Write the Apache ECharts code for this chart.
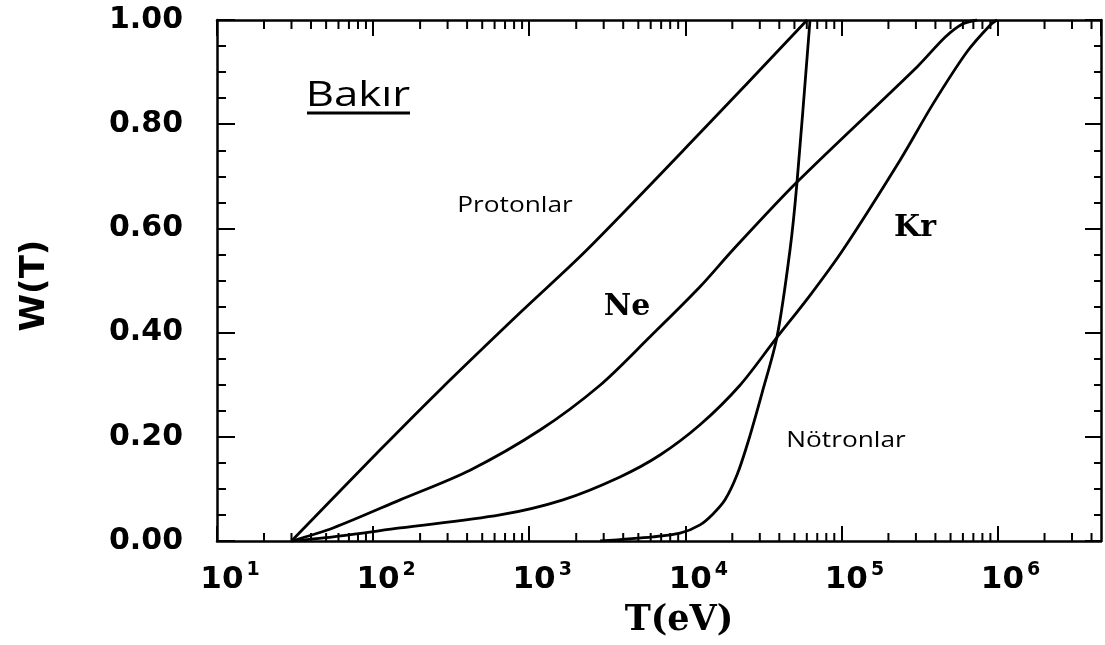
<!DOCTYPE html>
<html>
<head>
<meta charset="utf-8">
<script src="https://cdn.jsdelivr.net/npm/echarts@6/dist/echarts.min.js"></script>
<style>
  html, body { margin: 0; padding: 0; background: #ffffff; }
  #chart { width: 1105px; height: 645px; }
</style>
</head>
<body>
<div id="chart"></div>
<script>
// Energy T (eV) and fraction W(T) for each projectile in copper
const protonT = [30, 111, 268, 873, 2345, 12400, 60300];
const protonW = [0, 0.175, 0.29, 0.438, 0.559, 0.783, 1.0];

const neonT = [30, 55.4, 149, 418, 1173, 2842, 5940, 12420, 20210, 51940, 305000, 461000, 592500, 739000];
const neonW = [0, 0.025, 0.079, 0.136, 0.213, 0.299, 0.392, 0.488, 0.559, 0.689, 0.910, 0.967, 0.992, 1.0];

const kryptonT = [30, 55.4, 149, 650, 1646, 3816, 6887, 12420, 22400, 37550, 63100, 102400, 237400, 386200, 637600, 895400, 992700];
const kryptonW = [0, 0.008, 0.025, 0.050, 0.079, 0.123, 0.165, 0.223, 0.299, 0.386, 0.472, 0.559, 0.731, 0.839, 0.939, 0.990, 1.0];

const neutronT = [2842, 6212, 9250, 12420, 15050, 17960, 21450, 25220, 31000, 38680, 46850, 51940, 62920];
const neutronW = [0, 0.008, 0.015, 0.031, 0.052, 0.079, 0.127, 0.19, 0.284, 0.392, 0.559, 0.689, 1.0];

// Axis ticks
const decadeExponents = [1, 2, 3, 4, 5, 6];
const decadeValues = [10, 100, 1000, 10000, 100000, 1000000];
const minorMultipliers = [2, 3, 4, 5, 6, 7, 8, 9];
const yTickLabels = ['0.00', '0.20', '0.40', '0.60', '0.80', '1.00'];

const X_MIN = 10, X_MAX = 4.6e6;

// log-spaced minor tick positions inside the x range
const minorTickValues = [];
decadeValues.forEach(d => minorMultipliers.forEach(m => {
  const v = d * m;
  if (v > X_MIN && v < X_MAX) minorTickValues.push(v);
}));

const pairs = (xs, ys) => xs.map((x, i) => [x, ys[i]]);

const black = '#000000';
const axisLine = { show: true, onZero: false, lineStyle: { color: black, width: 2.5 } };

function decadeLabel(v) {
  const e = Math.round(Math.log10(v));
  if (Math.abs(Math.log10(v) - e) > 1e-6) return '';
  const i = decadeExponents.indexOf(e);
  return i < 0 ? '' : '{b|10}{s|' + decadeExponents[i] + '}';
}

function curve(name, data) {
  return {
    name: name,
    type: 'line',
    data: data,
    xAxisIndex: 0,
    yAxisIndex: 0,
    showSymbol: false,
    smooth: 0.3,
    lineStyle: { color: black, width: 2.8 },
    itemStyle: { color: black },
    z: 3
  };
}

const chart = echarts.init(document.getElementById('chart'), null, { renderer: 'canvas' });

chart.setOption({
  backgroundColor: '#ffffff',
  animation: false,
  grid: { left: 217, right: 4, top: 20, bottom: 104, containLabel: false },
  xAxis: [
    {
      type: 'log', logBase: 10, min: X_MIN, max: X_MAX, position: 'bottom',
      axisLine: axisLine,
      axisTick: { show: true, inside: true, length: 15, lineStyle: { color: black, width: 2 } },
      splitLine: { show: false },
      axisLabel: {
        show: true, margin: 20, showMaxLabel: false,
        padding: [0, 0, 0, 26],
        formatter: decadeLabel,
        rich: {
          b: { fontFamily: 'DejaVu Sans', fontWeight: 'bold', fontSize: 31, lineHeight: 34, color: black, verticalAlign: 'bottom' },
          s: { fontFamily: 'DejaVu Sans', fontWeight: 'bold', fontSize: 19, lineHeight: 14, color: black, verticalAlign: 'top', padding: [0, 0, 0, 3] }
        }
      },
      name: 'T(eV)', nameLocation: 'middle', nameGap: 62,
      nameTextStyle: { fontFamily: 'DejaVu Serif', fontWeight: 'bold', fontSize: 35, lineHeight: 36, color: black, padding: [0, 0, 0, 40] }
    },
    {
      type: 'log', logBase: 10, min: X_MIN, max: X_MAX, position: 'top',
      axisLine: axisLine,
      axisTick: { show: true, inside: true, length: 16, lineStyle: { color: black, width: 2 } },
      splitLine: { show: false },
      axisLabel: { show: false }
    }
  ],
  yAxis: [
    {
      type: 'value', min: 0, max: 1, interval: 0.2, position: 'left',
      axisLine: axisLine,
      axisTick: { show: true, inside: true, length: 18, lineStyle: { color: black, width: 2 } },
      minorTick: { show: true, splitNumber: 4, length: 9, lineStyle: { color: black, width: 2 } },
      splitLine: { show: false },
      axisLabel: {
        show: true, margin: 34,
        formatter: v => yTickLabels[Math.round(v / 0.2)],
        fontFamily: 'DejaVu Sans', fontWeight: 'bold', fontSize: 30, color: black
      },
      name: 'W(T)', nameLocation: 'middle', nameRotate: 90, nameGap: 165,
      nameTextStyle: { fontFamily: 'DejaVu Sans', fontWeight: 'bold', fontSize: 34, color: black, padding: [0, 10, 0, 0] }
    },
    {
      type: 'value', min: 0, max: 1, interval: 0.2, position: 'right',
      axisLine: axisLine,
      axisTick: { show: true, inside: true, length: 16, lineStyle: { color: black, width: 2 } },
      minorTick: { show: true, splitNumber: 4, length: 7, lineStyle: { color: black, width: 2 } },
      splitLine: { show: false },
      axisLabel: { show: false }
    }
  ],
  series: [
    curve('Protonlar', pairs(protonT, protonW)),
    curve('Ne', pairs(neonT, neonW)),
    curve('Kr', pairs(kryptonT, kryptonW)),
    curve('Nötronlar', pairs(neutronT, neutronW)),
    {
      // minor ticks of the logarithmic energy axis, on bottom and top edges
      name: 'minorTicks',
      type: 'custom',
      silent: true,
      xAxisIndex: 0,
      yAxisIndex: 0,
      data: minorTickValues.map(v => [v, 0]),
      renderItem: function (params, api) {
        const v = api.value(0);
        const b = api.coord([v, 0]);
        const t = api.coord([v, 1]);
        return {
          type: 'group',
          children: [
            { type: 'line', shape: { x1: b[0], y1: b[1], x2: b[0], y2: b[1] - 8 }, style: { stroke: black, lineWidth: 2 } },
            { type: 'line', shape: { x1: t[0], y1: t[1], x2: t[0], y2: t[1] + 9 }, style: { stroke: black, lineWidth: 2 } }
          ]
        };
      },
      z: 2
    }
  ],
  graphic: [
    {
      type: 'text', x: 358, y: 96, scaleX: 1.25, z: 10,
      style: { text: 'Bakır', fontFamily: 'Open Sans', fontSize: 35, fill: black, align: 'center', verticalAlign: 'middle', textAlign: 'center', textVerticalAlign: 'middle' }
    },
    {
      type: 'line', z: 10,
      shape: { x1: 307, y1: 113, x2: 410, y2: 113 },
      style: { stroke: black, lineWidth: 3 }
    },
    {
      type: 'text', x: 515, y: 206, scaleX: 1.25, z: 10,
      style: { text: 'Protonlar', fontFamily: 'Open Sans', fontSize: 21, fill: black, align: 'center', verticalAlign: 'middle', textAlign: 'center', textVerticalAlign: 'middle' }
    },
    {
      type: 'text', x: 846, y: 441, scaleX: 1.25, z: 10,
      style: { text: 'Nötronlar', fontFamily: 'Open Sans', fontSize: 21, fill: black, align: 'center', verticalAlign: 'middle', textAlign: 'center', textVerticalAlign: 'middle' }
    },
    {
      type: 'text', x: 627, y: 307, z: 10,
      style: { text: 'Ne', fontFamily: 'DejaVu Serif', fontWeight: 'bold', fontSize: 30, fill: black, align: 'center', verticalAlign: 'middle', textAlign: 'center', textVerticalAlign: 'middle' }
    },
    {
      type: 'text', x: 915, y: 228, z: 10,
      style: { text: 'Kr', fontFamily: 'DejaVu Serif', fontWeight: 'bold', fontSize: 30, fill: black, align: 'center', verticalAlign: 'middle', textAlign: 'center', textVerticalAlign: 'middle' }
    }
  ]
});
</script>
</body>
</html>
